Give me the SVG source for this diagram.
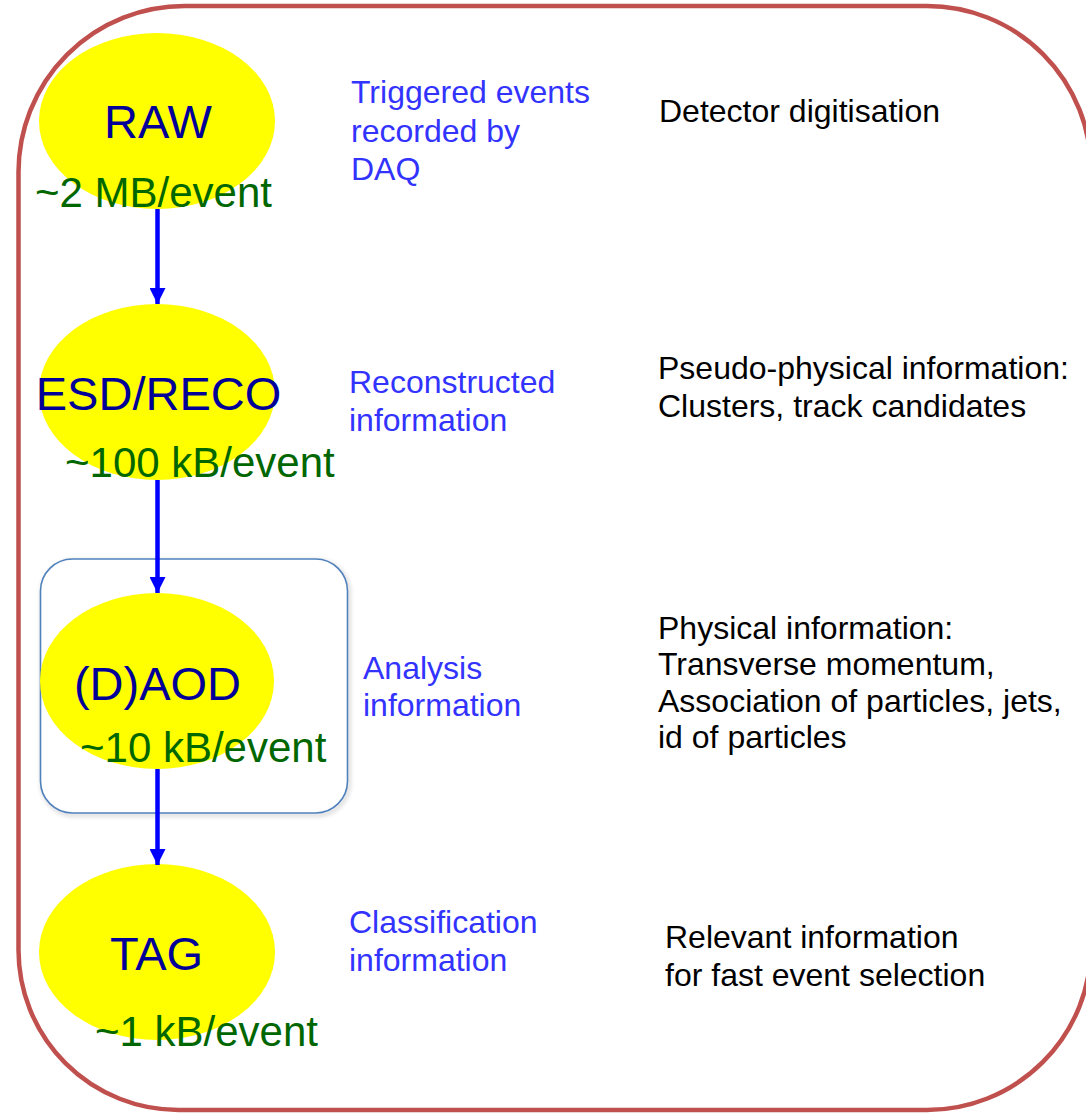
<svg xmlns="http://www.w3.org/2000/svg" width="1086" height="1113" viewBox="0 0 1086 1113">
<style>
text{font-family:"Liberation Sans",Arial,sans-serif}
.node{fill:#FFFF00;stroke:none}
.lbl{font-size:47px;fill:#000099;text-anchor:middle}
.size{font-size:42px;fill:#006600}
.desc{font-size:32px;fill:#3333FF}
.info{font-size:32px;fill:#000000}
.conn{stroke:#0000FF;stroke-width:4.5;fill:none}
</style>
<defs>
<marker id="ah" markerUnits="userSpaceOnUse" markerWidth="17" markerHeight="16" refX="16" refY="8" orient="auto">
<path d="M0,0 L16,8 L0,16 Z" fill="#0000FF"/>
</marker>
<filter id="sh" x="-10%" y="-10%" width="120%" height="120%">
<feGaussianBlur stdDeviation="2"/>
</filter>
</defs>
<path id="frame" d="M184.5,6 H927 A164,164 0 0 1 1091,170 V946 A164,164 0 0 1 927,1110 H178.5 A160,160 0 0 1 18.5,950 V172 A166,166 0 0 1 184.5,6 Z" fill="#FFFFFF" stroke="#C0504D" stroke-width="4.5"/>
<g id="group-box">
<rect x="42" y="561" width="307" height="254" rx="32" ry="32" fill="none" stroke="#000000" stroke-opacity="0.18" stroke-width="3" filter="url(#sh)"/>
<rect x="40.5" y="559" width="307" height="254" rx="32" ry="32" fill="#FFFFFF" stroke="#4F81BD" stroke-width="1.6"/>
</g>
<g id="node-raw">
<ellipse class="node" cx="157" cy="121" rx="118" ry="88"/>
<text class="lbl" x="158" y="138">RAW</text>
<text class="size" x="35" y="207">~2 MB/event</text>
</g>
<g id="node-esd">
<ellipse class="node" cx="157" cy="392" rx="118" ry="88"/>
<text class="lbl" x="158.5" y="410">ESD/RECO</text>
<text class="size" x="65" y="477">~100 kB/event</text>
</g>
<g id="node-aod">
<ellipse class="node" cx="157" cy="681" rx="117" ry="88"/>
<text class="lbl" x="157.5" y="700">(D)AOD</text>
<text class="size" x="80" y="762">~10 kB/event</text>
</g>
<g id="node-tag">
<ellipse class="node" cx="157" cy="952" rx="118" ry="88"/>
<text class="lbl" x="156.5" y="970">TAG</text>
<text class="size" x="95" y="1046">~1 kB/event</text>
</g>
<g id="connectors">
<line class="conn" x1="157.5" y1="209" x2="157.5" y2="304" marker-end="url(#ah)"/>
<line class="conn" x1="157.5" y1="480" x2="157.5" y2="593" marker-end="url(#ah)"/>
<line class="conn" x1="157.5" y1="769" x2="157.5" y2="865" marker-end="url(#ah)"/>
</g>
<g id="descriptions">
<text class="desc" x="351" y="103">Triggered events</text>
<text class="desc" x="351" y="142">recorded by</text>
<text class="desc" x="351" y="180">DAQ</text>
<text class="desc" x="349" y="393">Reconstructed</text>
<text class="desc" x="349" y="431">information</text>
<text class="desc" x="363" y="679">Analysis</text>
<text class="desc" x="363" y="716">information</text>
<text class="desc" x="349" y="933">Classification</text>
<text class="desc" x="349" y="971">information</text>
</g>
<g id="details">
<text class="info" x="659" y="122">Detector digitisation</text>
<text class="info" x="658" y="379">Pseudo-physical information:</text>
<text class="info" x="658" y="417">Clusters, track candidates</text>
<text class="info" x="658" y="639">Physical information:</text>
<text class="info" x="658" y="675">Transverse momentum,</text>
<text class="info" x="658" y="712">Association of particles, jets,</text>
<text class="info" x="658" y="748">id of particles</text>
<text class="info" x="665" y="948">Relevant information</text>
<text class="info" x="665" y="986">for fast event selection</text>
</g>
</svg>
